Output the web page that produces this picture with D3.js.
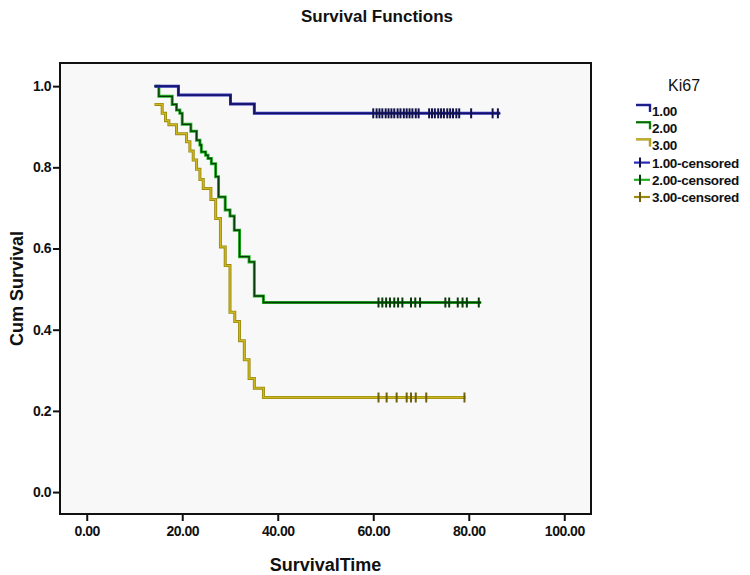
<!DOCTYPE html>
<html>
<head>
<meta charset="utf-8">
<script src="https://cdn.jsdelivr.net/npm/d3@7"></script>
<style>
  html, body { margin: 0; padding: 0; background: #ffffff; }
  svg { display: block; font-family: "Liberation Sans", Arial, sans-serif; }
</style>
</head>
<body>
<svg id="chart" width="750" height="575"></svg>
<script>
// ---- Data ----
const groupNames = ["1.00", "2.00", "3.00"];
const legendLabels = ["1.00", "2.00", "3.00", "1.00-censored", "2.00-censored", "3.00-censored"];
const xTicks = [0, 20, 40, 60, 80, 100];
const yTicks = [0.0, 0.2, 0.4, 0.6, 0.8, 1.0];

// group 1.00 : first point is the start of the curve, others are event steps
const times1 = [14.2, 19.2, 30.1, 35.1];
const surv1  = [1.000, 0.978, 0.956, 0.933];
const censor1 = [60.0, 60.7, 61.3, 61.9, 62.6, 63.2, 63.8, 64.4, 65.1, 65.7, 66.4, 67.0, 67.6, 68.2, 68.9, 69.5,
                 71.7, 72.3, 72.9, 73.6, 74.2, 74.8, 75.5, 76.1, 76.7, 77.4, 78.0, 80.5, 85.0, 86.1];
const end1 = 86.6;

// group 2.00
const times2 = [14.2, 15.1, 17.9, 18.8, 19.5, 20.0, 21.8, 23.0, 23.7, 24.0, 24.9, 25.4, 26.1, 27.0, 27.6, 29.0, 30.0, 30.9, 32.0, 34.0, 35.1, 37.0];
const surv2  = [1.000, 0.975, 0.955, 0.941, 0.933, 0.906, 0.889, 0.867, 0.855, 0.838, 0.830, 0.822, 0.809, 0.777, 0.727, 0.695, 0.680, 0.645, 0.580, 0.567, 0.483, 0.467];
const censor2 = [61.1, 61.9, 62.7, 63.5, 64.4, 65.2, 66.1, 67.9, 68.8, 69.8, 75.1, 75.9, 77.7, 78.7, 79.6, 82.1];
const end2 = 82.6;

// group 3.00
const times3 = [14.2, 15.8, 16.5, 17.2, 18.8, 20.9, 21.6, 22.3, 23.0, 23.7, 24.4, 26.0, 27.0, 28.0, 29.0, 30.0, 31.0, 32.0, 33.0, 34.0, 35.1, 37.0];
const surv3  = [0.955, 0.933, 0.915, 0.905, 0.883, 0.863, 0.840, 0.818, 0.795, 0.770, 0.748, 0.721, 0.674, 0.604, 0.558, 0.443, 0.420, 0.373, 0.326, 0.280, 0.256, 0.233];
const censor3 = [61.1, 62.8, 64.9, 67.0, 67.9, 68.9, 71.1, 79.1];
const end3 = 79.3;

// ---- Styles ----
const outerColors = ["#2a2ab8", "#22b022", "#9a8a10"];
const innerColors = ["#12125a", "#0a3a0a", "#cdb820"];
const censorColors = ["#12124a", "#0a3a0a", "#6e6008"];

// ---- Layout ----
const svg = d3.select("#chart");
const frame = { left: 60, right: 591, top: 63, bottom: 514 };

const x = d3.scaleLinear().domain([-5.6, 105.6]).range([frame.left, frame.right]);
const y = d3.scaleLinear().domain([-0.054, 1.057]).range([frame.bottom, frame.top]);

// plot background
svg.append("rect")
  .attr("x", frame.left).attr("y", frame.top)
  .attr("width", frame.right - frame.left).attr("height", frame.bottom - frame.top)
  .attr("fill", "#f8f8f8");

// title
svg.append("text")
  .attr("x", 377).attr("y", 22)
  .attr("text-anchor", "middle")
  .attr("font-size", 17).attr("font-weight", "bold")
  .attr("fill", "#111")
  .text("Survival Functions");

// axes
const xAxis = d3.axisBottom(x).tickValues(xTicks).tickFormat(d3.format(".2f")).tickSizeOuter(0).tickSizeInner(7).tickPadding(5);
const yAxis = d3.axisLeft(y).tickValues(yTicks).tickFormat(d3.format(".1f")).tickSizeOuter(0).tickSizeInner(7).tickPadding(2);

const gx = svg.append("g").attr("transform", `translate(0,${frame.bottom})`).call(xAxis);
const gy = svg.append("g").attr("transform", `translate(${frame.left},0)`).call(yAxis);
[gx, gy].forEach(g => {
  g.select(".domain").remove();
  g.selectAll(".tick line").attr("stroke", "#111").attr("stroke-width", 2);
  g.selectAll(".tick text").attr("fill", "#111").attr("font-size", 14).attr("font-weight", "bold")
    .attr("font-family", "'Liberation Sans', Arial, sans-serif").attr("letter-spacing", "-0.5px");
});

// frame
svg.append("rect")
  .attr("x", frame.left).attr("y", frame.top)
  .attr("width", frame.right - frame.left).attr("height", frame.bottom - frame.top)
  .attr("fill", "none").attr("stroke", "#111").attr("stroke-width", 2);

// axis titles
svg.append("text")
  .attr("x", (frame.left + frame.right) / 2).attr("y", 571)
  .attr("text-anchor", "middle").attr("font-size", 18).attr("font-weight", "bold").attr("fill", "#111")
  .text("SurvivalTime");
svg.append("text")
  .attr("transform", `translate(23,${(frame.top + frame.bottom) / 2}) rotate(-90)`)
  .attr("text-anchor", "middle").attr("font-size", 18).attr("font-weight", "bold").attr("fill", "#111")
  .text("Cum Survival");

// curves
const series = [
  { times: times1, surv: surv1, censor: censor1, end: end1 },
  { times: times2, surv: surv2, censor: censor2, end: end2 },
  { times: times3, surv: surv3, censor: censor3, end: end3 }
];
const line = d3.line().x(d => x(d[0])).y(d => y(d[1])).curve(d3.curveStepAfter);

// draw in order 3,2,1 so that blue is on top
[2, 1, 0].forEach(i => {
  const s = series[i];
  const pts = s.times.map((t, k) => [t, s.surv[k]]);
  pts.push([s.end, s.surv[s.surv.length - 1]]);
  const g = svg.append("g");
  g.append("path").attr("d", line(pts)).attr("fill", "none")
    .attr("stroke", outerColors[i]).attr("stroke-width", 3.0);
  g.append("path").attr("d", line(pts)).attr("fill", "none")
    .attr("stroke", innerColors[i]).attr("stroke-width", 1.3);
  const lastS = s.surv[s.surv.length - 1];
  g.selectAll("line.c").data(s.censor).enter().append("line")
    .attr("x1", d => x(d)).attr("x2", d => x(d))
    .attr("y1", y(lastS) - 5).attr("y2", y(lastS) + 5)
    .attr("stroke", censorColors[i]).attr("stroke-width", 2);
});

// legend
const lg = svg.append("g");
lg.append("text").attr("x", 668).attr("y", 91).attr("font-size", 16).attr("fill", "#111").text("Ki67");
const rowY = d3.range(legendLabels.length).map(k => 111 + k * 17.2);
legendLabels.forEach((lab, k) => {
  const cy = rowY[k];
  const ci = k % 3;
  if (k < 3) {
    lg.append("path").attr("d", `M636,${cy - 6}H650V${cy + 1}`).attr("fill", "none")
      .attr("stroke", outerColors[ci]).attr("stroke-width", 2.4);
    lg.append("path").attr("d", `M636,${cy - 6}H650V${cy + 1}`).attr("fill", "none")
      .attr("stroke", innerColors[ci]).attr("stroke-width", 1);
  } else {
    lg.append("line").attr("x1", 634).attr("x2", 650).attr("y1", cy).attr("y2", cy)
      .attr("stroke", outerColors[ci]).attr("stroke-width", 2.2);
    lg.append("line").attr("x1", 640).attr("x2", 640).attr("y1", cy - 5).attr("y2", cy + 5)
      .attr("stroke", censorColors[ci]).attr("stroke-width", 2);
  }
  lg.append("text").attr("x", 652).attr("y", cy + 5)
    .attr("font-size", 13.5).attr("font-weight", "bold").attr("fill", "#111")
    .attr("letter-spacing", "-0.3px")
    .text(lab);
});
</script>
</body>
</html>
